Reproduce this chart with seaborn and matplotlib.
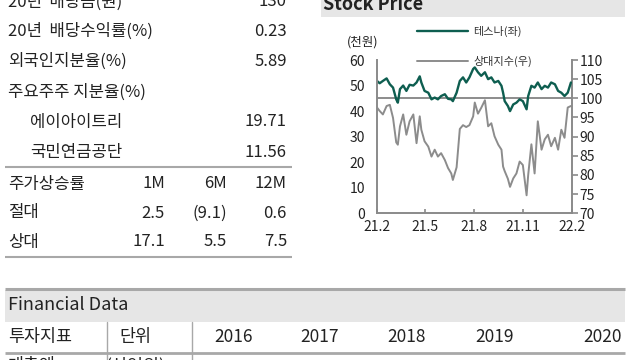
import matplotlib
matplotlib.use("Agg")
import matplotlib.pyplot as plt
import seaborn as sns
import pandas as pd
from matplotlib.lines import Line2D
from matplotlib.patches import Rectangle

# ---------------- data ----------------
info_labels = ["20년  배당금(원)", "20년  배당수익률(%)", "외국인지분율(%)", "주요주주 지분율(%)",
               "에이아이트리", "국민연금공단"]
info_values = ["130", "0.23", "5.89", "", "19.71", "11.56"]
info_indent = [False, False, False, False, True, True]

perf_title = "주가상승률"
perf_periods = ["1M", "6M", "12M"]
perf_row_names = ["절대", "상대"]
perf_abs = [2.5, -9.1, 0.6]
perf_rel = [17.1, 5.5, 7.5]

price_dates = ["2021-02-01", "2021-02-06", "2021-02-12", "2021-02-19", "2021-02-25", "2021-03-03",
               "2021-03-09", "2021-03-12", "2021-03-16", "2021-03-22", "2021-03-28", "2021-04-03",
               "2021-04-10", "2021-04-16", "2021-04-22", "2021-04-25", "2021-05-01", "2021-05-08",
               "2021-05-14", "2021-05-20", "2021-05-26", "2021-06-01", "2021-06-08", "2021-06-14",
               "2021-06-20", "2021-06-23", "2021-06-30", "2021-07-06", "2021-07-12", "2021-07-18",
               "2021-07-24", "2021-07-31", "2021-08-03", "2021-08-09", "2021-08-15", "2021-08-22",
               "2021-08-28", "2021-09-03", "2021-09-09", "2021-09-16", "2021-09-22", "2021-09-25",
               "2021-09-28", "2021-10-04", "2021-10-08", "2021-10-14", "2021-10-20", "2021-10-26",
               "2021-11-01", "2021-11-08", "2021-11-11", "2021-11-17", "2021-11-23", "2021-11-29",
               "2021-12-06", "2021-12-12", "2021-12-18", "2021-12-24", "2021-12-31", "2022-01-06",
               "2022-01-12", "2022-01-18", "2022-01-24", "2022-01-30"]
tesna_price = [51.8, 50.9, 51.8, 52.8, 50.5, 49.2, 44.6, 43.3, 48.6, 50.0, 47.9, 50.3, 50.0, 51.2,
               53.6, 51.2, 47.9, 47.2, 44.6, 45.3, 44.6, 45.9, 46.6, 44.8, 44.6, 43.9, 47.2, 51.8,
               53.2, 51.2, 53.2, 56.5, 57.1, 55.2, 53.8, 55.2, 52.5, 53.2, 51.2, 51.8, 49.9, 47.2,
               43.9, 42.0, 40.0, 42.6, 43.3, 44.6, 43.9, 40.7, 45.9, 49.9, 49.2, 51.2, 48.6, 49.9,
               49.2, 51.2, 50.5, 47.9, 47.2, 45.9, 47.2, 51.2]
relative_index = [97.6, 96.7, 95.8, 98.0, 98.3, 94.9, 88.5, 87.9, 92.7, 95.8, 90.5, 94.0, 95.8, 88.3,
                  95.3, 91.8, 88.8, 87.4, 84.8, 86.6, 84.8, 85.7, 83.9, 81.8, 80.4, 78.7, 82.0, 92.0,
                  93.0, 92.5, 93.0, 95.3, 98.9, 96.0, 97.5, 99.5, 92.7, 93.5, 90.1, 87.9, 86.6, 82.2,
                  81.0, 79.0, 76.9, 79.1, 80.4, 83.5, 82.6, 74.7, 80.0, 88.0, 80.4, 94.0, 86.6, 89.3,
                  90.5, 87.5, 89.7, 86.6, 91.8, 89.7, 97.6, 98.0]
series_names = ["테스나(좌)", "상대지수(우)"]
xtick_dates = ["2021-02-01", "2021-05-01", "2021-08-01", "2021-11-01", "2022-02-01"]
xtick_labels = ["21.2", "21.5", "21.8", "21.11", "22.2"]
left_ticks = [0, 10, 20, 30, 40, 50, 60]
right_ticks = [70, 75, 80, 85, 90, 95, 100, 105, 110]
base_level = 100

fin_header = ["투자지표", "단위", "2016", "2017", "2018", "2019", "2020"]
fin_first_row = ["매출액", "(십억원)"]

# ---------------- style ----------------
sns.set_theme(style="ticks")
plt.rcParams['font.family'] = ['Noto Sans CJK KR', 'DejaVu Sans']

TXT = "#222222"
GRID = "#a8a8a8"
SP = "#8a8a8a"
TEAL = "#0e5e50"
GRAY = "#8c8c8c"

W, H = 640, 360
fig = plt.figure(figsize=(6.4, 3.6), dpi=100)


def fx(x):
    return x / W


def fy(y):
    return 1 - y / H


def hline(x0, x1, y, lw=1.5, color=GRID):
    fig.add_artist(Line2D([fx(x0), fx(x1)], [fy(y), fy(y)], transform=fig.transFigure,
                          color=color, lw=lw, solid_capstyle="butt"))


def vline(x, y0, y1, lw=1.0, color=GRID):
    fig.add_artist(Line2D([fx(x), fx(x)], [fy(y0), fy(y1)], transform=fig.transFigure,
                          color=color, lw=lw))


def txt(x, y, s, ha="left", size=12, **kw):
    fig.text(fx(x), fy(y), s, ha=ha, va="center", fontsize=size, color=kw.pop("color", TXT), **kw)


# ---------------- left table ----------------
row_y = [2, 31, 61, 92, 122, 152]
for y, lab, val, ind in zip(row_y, info_labels, info_values, info_indent):
    txt(30 if ind else 8, y, lab)
    if val:
        txt(287, y, val, ha="right")
hline(5, 292, 167)

col_right = [165, 227, 287]
txt(8, 184, perf_title)
for xr, p in zip(col_right, perf_periods):
    txt(xr, 184, p, ha="right")


def fmt(v):
    return f"({abs(v):.1f})" if v < 0 else f"{v:.1f}"


for y, name, vals in zip([213, 242], perf_row_names, [perf_abs, perf_rel]):
    txt(8, y, name)
    for xr, v in zip(col_right, vals):
        txt(xr, y, fmt(v), ha="right")
hline(5, 292, 257)

# ---------------- stock price chart ----------------
fig.add_artist(Rectangle((fx(321), fy(17)), (625 - 321) / W, 17 / H, transform=fig.transFigure,
                         facecolor="#e6e6e6", edgecolor="none", zorder=0))
fig.text(fx(323), fy(9.5), "Stock Price", ha="left", va="baseline", fontsize=13,
         fontweight="bold", color=TXT)

df = pd.DataFrame({"date": pd.to_datetime(price_dates), "tesna": tesna_price,
                   "rel": relative_index})

ax = fig.add_axes([fx(377), fy(213.3), (572 - 377) / W, (213.3 - 60) / H])
ax2 = ax.twinx()
sns.lineplot(data=df, x="date", y="rel", ax=ax2, color=GRAY, lw=1.4, legend=False)
ax2.axhline(base_level, color=GRAY, lw=1.4)
sns.lineplot(data=df, x="date", y="tesna", ax=ax, color=TEAL, lw=1.7, legend=False)
ax.set_zorder(ax2.get_zorder() + 1)
ax.patch.set_visible(False)

ax.set_xlim(pd.Timestamp(xtick_dates[0]), pd.Timestamp(xtick_dates[-1]))
ax.set_ylim(left_ticks[0], left_ticks[-1])
ax2.set_ylim(right_ticks[0], right_ticks[-1])
ax.set_xticks(pd.to_datetime(xtick_dates))
ax.set_xticklabels(xtick_labels)
ax.set_yticks(left_ticks)
ax2.set_yticks(right_ticks)
for a in (ax, ax2):
    a.set_xlabel("")
    a.set_ylabel("")

for s in ["top", "right"]:
    ax.spines[s].set_visible(False)
for s in ["top", "left", "bottom"]:
    ax2.spines[s].set_visible(False)
for s in ["left", "bottom"]:
    ax.spines[s].set_color(SP)
    ax.spines[s].set_linewidth(1.4)
ax2.spines["right"].set_color(SP)
ax2.spines["right"].set_linewidth(1.4)

ax.tick_params(axis="y", left=False, length=0, pad=8.5, labelsize=10, labelcolor=TXT)
ax.tick_params(axis="x", bottom=True, direction="in", length=3, width=1.2, color=SP, pad=5,
               labelsize=10, labelcolor=TXT)
ax2.tick_params(axis="y", right=True, direction="out", length=4, width=1.2, color=SP, pad=1.5,
                labelsize=10, labelcolor=TXT)

ax.legend([ax.lines[0], ax2.lines[0]], series_names, loc="upper left",
          bbox_to_anchor=(fx(417), fy(26)), bbox_transform=fig.transFigure, frameon=False,
          fontsize=8, handlelength=4.6, handletextpad=0.45, labelspacing=1.7, borderpad=0,
          borderaxespad=0, labelcolor="#333333")
fig.text(fx(363), fy(42), "(천원)", ha="center", va="center", fontsize=9, color=TXT)

# ---------------- financial data ----------------
hline(5, 625, 288.5, lw=2.2)
fig.add_artist(Rectangle((fx(5), fy(322)), 620 / W, (322 - 290) / H, transform=fig.transFigure,
                         facecolor="#e6e6e6", edgecolor="none", zorder=0))
txt(8, 305, "Financial Data", size=13)
head_x = [8, 135, 234, 320, 407, 495, 622]
head_ha = ["left", "center", "center", "center", "center", "center", "right"]
for x, s, ha in zip(head_x, fin_header, head_ha):
    txt(x, 337, s, ha=ha, size=12.5)
vline(107, 322, 360)
vline(192, 322, 360)
hline(5, 625, 352.5, lw=2.0)
txt(8, 366, fin_first_row[0], size=12.5)
txt(135, 366, fin_first_row[1], ha="center", size=12.5)

fig.savefig("out.png", dpi=100)
